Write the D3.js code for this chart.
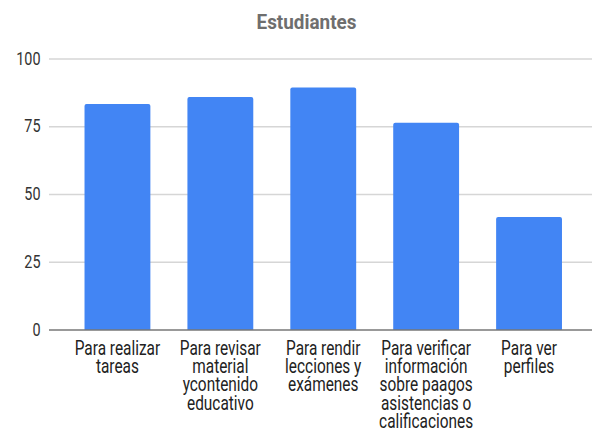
<!DOCTYPE html>
<html>
<head>
<meta charset="utf-8">
<script src="https://cdn.jsdelivr.net/npm/d3@7"></script>
<style>
  html, body { margin: 0; padding: 0; background: #fff; }
  svg { display: block; font-family: Roboto, "Liberation Sans", Arial, sans-serif; }
</style>
</head>
<body>
<svg id="chart" width="592" height="432"></svg>
<script>
const title = "Estudiantes";
const categories = [
  "Para realizar tareas",
  "Para revisar material ycontenido educativo",
  "Para rendir lecciones y exámenes",
  "Para verificar información sobre paagos asistencias o calificaciones",
  "Para ver perfiles"
];
const categoryLines = [
  ["Para realizar", "tareas"],
  ["Para revisar", "material", "ycontenido", "educativo"],
  ["Para rendir", "lecciones y", "exámenes"],
  ["Para verificar", "información", "sobre paagos", "asistencias o", "calificaciones"],
  ["Para ver", "perfiles"]
];
const values = [83.4, 86.0, 89.5, 76.5, 41.7];
const yTicks = [0, 25, 50, 75, 100];

const svg = d3.select("#chart");

const x = d3.scaleBand()
  .domain(categories)
  .range([66, 580.5])
  .paddingInner(0.36)
  .paddingOuter(0.18);

const y = d3.scaleLinear().domain([0, 100]).range([330, 59]);

// stretched text helper (chart text appears vertically stretched)
function stext(parent, px, py, str, size, sx, anchor) {
  const g = parent.append("g").attr("transform", `translate(${px},${py}) scale(${sx},1)`);
  return g.append("text")
    .attr("x", 0).attr("y", 0)
    .attr("font-size", size)
    .attr("text-anchor", anchor)
    .text(str);
}

// gridlines
const grid = svg.append("g");
grid.selectAll("line")
  .data(yTicks.filter(d => d !== 0))
  .join("line")
  .attr("x1", 49).attr("x2", 592)
  .attr("y1", d => y(d)).attr("y2", d => y(d))
  .attr("stroke", "#d6d6d6").attr("stroke-width", 1.3);

// y tick labels
const yl = svg.append("g").attr("fill", "#333");
yTicks.forEach(t => {
  stext(yl, 40.5, y(t) + 5.5, String(t), 18, 0.8, "end");
});

// bars with slightly rounded top corners
const r = 2;
svg.append("g").selectAll("path")
  .data(values)
  .join("path")
  .attr("fill", "#4285F4")
  .attr("d", (d, i) => {
    const x0 = x(categories[i]), x1 = x0 + x.bandwidth();
    const yt = y(d), yb = y(0);
    return `M${x0},${yb} L${x0},${yt + r} Q${x0},${yt} ${x0 + r},${yt} L${x1 - r},${yt} Q${x1},${yt} ${x1},${yt + r} L${x1},${yb} Z`;
  });

// baseline axis
svg.append("line")
  .attr("x1", 49).attr("x2", 592)
  .attr("y1", y(0)).attr("y2", y(0))
  .attr("stroke", "#777").attr("stroke-width", 1.5);

// category labels
const cl = svg.append("g").attr("fill", "#222");
categories.forEach((c, i) => {
  const cx = x(c) + x.bandwidth() / 2;
  categoryLines[i].forEach((ln, j) => {
    stext(cl, cx, 355 + j * 18.2, ln, 19.5, 0.79, "middle");
  });
});

// title
const tg = svg.append("g").attr("fill", "#6e6e6e");
stext(tg, 306.5, 29, title, 21, 0.9, "middle").attr("font-weight", "bold");
</script>
</body>
</html>
